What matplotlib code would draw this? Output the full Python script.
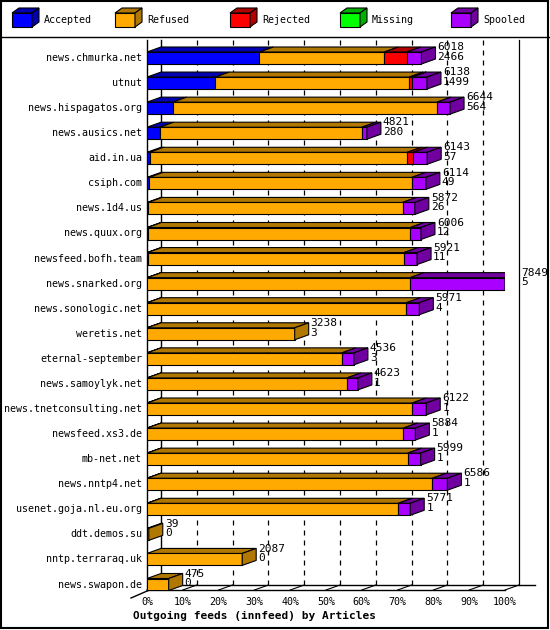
import matplotlib.pyplot as plt
from matplotlib.patches import Rectangle, Polygon

feeds = ["news.chmurka.net", "utnut", "news.hispagatos.org", "news.ausics.net",
         "aid.in.ua", "csiph.com", "news.1d4.us", "news.quux.org",
         "newsfeed.bofh.team", "news.snarked.org", "news.sonologic.net",
         "weretis.net", "eternal-september", "news.samoylyk.net",
         "news.tnetconsulting.net", "newsfeed.xs3.de", "mb-net.net",
         "news.nntp4.net", "usenet.goja.nl.eu.org", "ddt.demos.su",
         "nntp.terraraq.uk", "news.swapon.de"]
offered = [6018, 6138, 6644, 4821, 6143, 6114, 5872, 6006, 5921, 7849, 5971,
           3238, 4536, 4623, 6122, 5884, 5999, 6586, 5771, 39, 2087, 475]
accepted = [2466, 1499, 564, 280, 57, 49, 26, 12, 11, 5, 4,
            3, 3, 1, 1, 1, 1, 1, 1, 0, 0, 0]
refused = [2740, 4250, 5795, 4431, 5649, 5758, 5576, 5762, 5625, 5764, 5682,
           3235, 4270, 4382, 5814, 5620, 5713, 6255, 5507, 39, 2087, 475]
rejected = [490, 66, 0, 0, 130, 0, 0, 0, 0, 0, 0,
            0, 0, 0, 0, 0, 0, 0, 0, 0, 0, 0]
missing = [0] * len(feeds)
spooled = [o - a - r - j - m for o, a, r, j, m in
           zip(offered, accepted, refused, rejected, missing)]

series = ["Accepted", "Refused", "Rejected", "Missing", "Spooled"]
values = [accepted, refused, rejected, missing, spooled]
front = ["#0000ff", "#ffaa00", "#ff0000", "#00ff00", "#aa00ff"]
dark = ["#0000b0", "#b07800", "#b00000", "#00b000", "#7000a0"]

plt.rcParams["font.family"] = "DejaVu Sans Mono"
plt.rcParams["font.size"] = 7.2

W, H = 550, 630
fig = plt.figure(figsize=(W / 100, H / 100), dpi=100)

n = len(feeds)
row_px = (584.5 - 58) / (n - 1)
px_y = 1 / row_px
y_top = -(58 - 40) * px_y
y_base = (n - 1) + 5.5 * px_y

# main axes = front plane: x 147..505 px, y 40..590 px
ax = fig.add_axes([147 / W, 1 - 590 / H, 358 / W, 550 / H])
ax.set_xlim(0, 100)
ax.set_ylim(y_base, y_top)
ax.axis("off")

px_x = 100 / 358
dx, dy = 14 * px_x, 5 * px_y
hh = 6 * px_y
total_max = max(offered)

# back-plane gridlines
for p in range(10, 101, 10):
    ax.plot([p + dx] * 2, [y_base - dy, y_top], color="black", lw=0.9,
            ls=(0, (4, 4)) if p < 100 else "-", zorder=1, clip_on=False)
ax.plot([dx, dx], [y_base - dy, y_top], color="black", lw=1, clip_on=False)
ax.plot([0, 0], [y_base, y_top], color="black", lw=1, clip_on=False)
ax.plot([0, 100], [y_base, y_base], color="black", lw=1, clip_on=False)
ax.plot([dx, 100 + dx + 16 * px_x], [y_base - dy, y_base - dy], color="black",
        lw=1, clip_on=False)
ax.plot([-16 * px_x, dx], [y_base + 1.6 * dy, y_base - dy], color="black",
        lw=1, clip_on=False)
for p in range(0, 101, 10):
    ax.plot([p, p + dx], [y_base, y_base - dy], color="black", lw=0.8, clip_on=False)
    ax.text(p, y_base + 12 * px_y, f"{p}%", ha="center", va="center")
ax.text(30, y_base + 26 * px_y, "Outgoing feeds (innfeed) by Articles",
        ha="center", va="center", fontweight="bold", fontsize=8)

for i, name in enumerate(feeds):
    y = i
    x0 = 0
    last = None
    for k in range(len(series)):
        w = values[k][i] / total_max * 100
        if w <= 0:
            continue
        x1 = x0 + w
        ax.add_patch(Rectangle((x0, y - hh), w, 2 * hh, facecolor=front[k],
                               edgecolor="black", lw=0.8, zorder=3))
        ax.add_patch(Polygon([(x0, y - hh), (x0 + dx, y - hh - dy),
                              (x1 + dx, y - hh - dy), (x1, y - hh)],
                             facecolor=dark[k], edgecolor="black", lw=0.8, zorder=3))
        last = k
        x0 = x1
    if last is not None:
        ax.add_patch(Polygon([(x0, y - hh), (x0 + dx, y - hh - dy),
                              (x0 + dx, y + hh - dy), (x0, y + hh)],
                             facecolor=dark[last], edgecolor="black", lw=0.8, zorder=3))
    ax.text(x0 + dx + 2 * px_x, y - hh, f"{offered[i]}\n{accepted[i]}",
            ha="left", va="center", linespacing=0.95, fontsize=8, zorder=4)
    ax.text(-5 * px_x, y, name, ha="right", va="center")

# legend
lax = fig.add_axes([0, 0, 1, 1])
lax.set_xlim(0, W)
lax.set_ylim(H, 0)
lax.axis("off")
lx = [12, 115, 230, 340, 451]
for k, s in enumerate(series):
    x, yb = lx[k], 27
    lax.add_patch(Rectangle((x, yb - 14), 20, 14, facecolor=front[k],
                            edgecolor="black", lw=0.8))
    lax.add_patch(Polygon([(x, yb - 14), (x + 7, yb - 19), (x + 27, yb - 19),
                           (x + 20, yb - 14)], facecolor=dark[k], edgecolor="black", lw=0.8))
    lax.add_patch(Polygon([(x + 20, yb - 14), (x + 27, yb - 19), (x + 27, yb - 5),
                           (x + 20, yb)], facecolor=dark[k], edgecolor="black", lw=0.8))
    lax.text(x + 32, 20, s, ha="left", va="center")
lax.plot([0, W], [37, 37], color="black", lw=1)
lax.add_patch(Rectangle((1, 1), W - 3, H - 3, fill=False, edgecolor="black", lw=1.5))

fig.savefig("out.png", dpi=100)
